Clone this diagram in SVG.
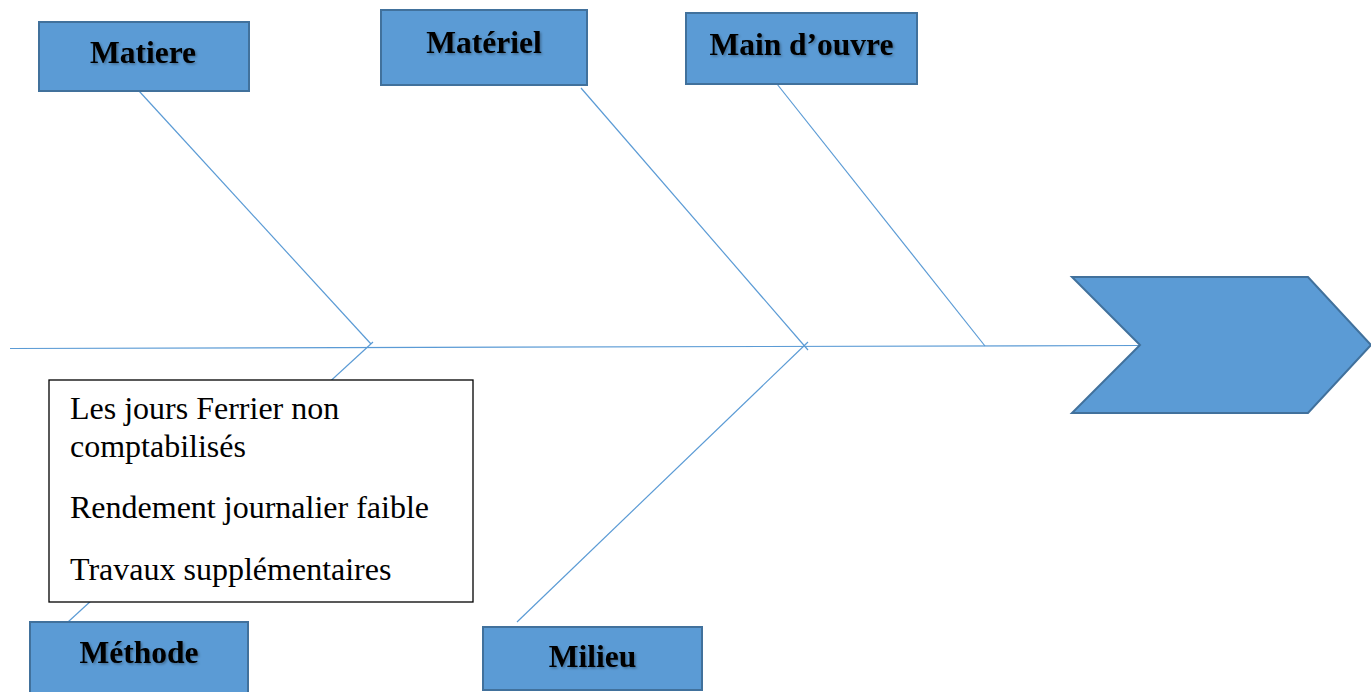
<svg xmlns="http://www.w3.org/2000/svg" width="1371" height="692" viewBox="0 0 1371 692">
  <style>
    .bone { stroke: #5b9bd5; stroke-width: 1.2; fill: none; }
    .cat { fill: #5b9bd5; stroke: #41719c; stroke-width: 2; }
    .catlabel { font-family: "Liberation Serif", "Times New Roman", serif; font-weight: bold; font-size: 31.5px; fill: #000; text-anchor: middle; filter: url(#txtShadow); }
    .note { fill: #fff; stroke: #000; stroke-width: 1.3; }
    .notetext { font-family: "Liberation Serif", "Times New Roman", serif; font-size: 32px; fill: #000; }
  </style>
  <defs>
    <filter id="txtShadow" x="-10%" y="-20%" width="120%" height="150%">
      <feDropShadow dx="1.5" dy="1.5" stdDeviation="1" flood-color="#000" flood-opacity="0.3"/>
    </filter>
  </defs>
  <rect width="1371" height="692" fill="#fff"/>

  <!-- spine and bones -->
  <g id="connectors">
    <line class="bone" x1="10" y1="348.5" x2="1140" y2="345.5"/>
    <line class="bone" x1="139" y1="91" x2="371" y2="344"/>
    <line class="bone" x1="68" y1="622" x2="373" y2="342"/>
    <line class="bone" x1="581" y1="88" x2="808" y2="350"/>
    <line class="bone" x1="517" y1="622" x2="808" y2="342"/>
    <line class="bone" x1="777" y1="84" x2="985" y2="346"/>
  </g>

  <!-- effect head -->
  <g id="head">
    <polygon class="cat" points="1072,277 1308,277 1371,345 1308,413 1072,413 1140,345"/>
  </g>

  <g id="matiere">
    <rect class="cat" x="39" y="22" width="210" height="69"/>
    <text class="catlabel" x="143" y="63">Matiere</text>
  </g>

  <g id="materiel">
    <rect class="cat" x="381" y="10" width="206" height="75"/>
    <text class="catlabel" x="484" y="53">Matériel</text>
  </g>

  <g id="main-oeuvre">
    <rect class="cat" x="686" y="13" width="231" height="71"/>
    <text class="catlabel" x="801.5" y="55">Main d’ouvre</text>
  </g>

  <g id="methode">
    <rect class="cat" x="30" y="622" width="218" height="74"/>
    <text class="catlabel" x="139" y="663">Méthode</text>
  </g>

  <g id="milieu">
    <rect class="cat" x="483" y="627" width="219" height="63"/>
    <text class="catlabel" x="592.5" y="667">Milieu</text>
  </g>

  <!-- causes listed under Méthode -->
  <g id="causes">
    <rect class="note" x="49" y="380" width="424" height="222"/>
    <text class="notetext" x="70" y="419">Les jours Ferrier non</text>
    <text class="notetext" x="70" y="457">comptabilisés</text>
    <text class="notetext" x="70" y="518">Rendement journalier faible</text>
    <text class="notetext" x="70" y="580">Travaux supplémentaires</text>
  </g>
</svg>
